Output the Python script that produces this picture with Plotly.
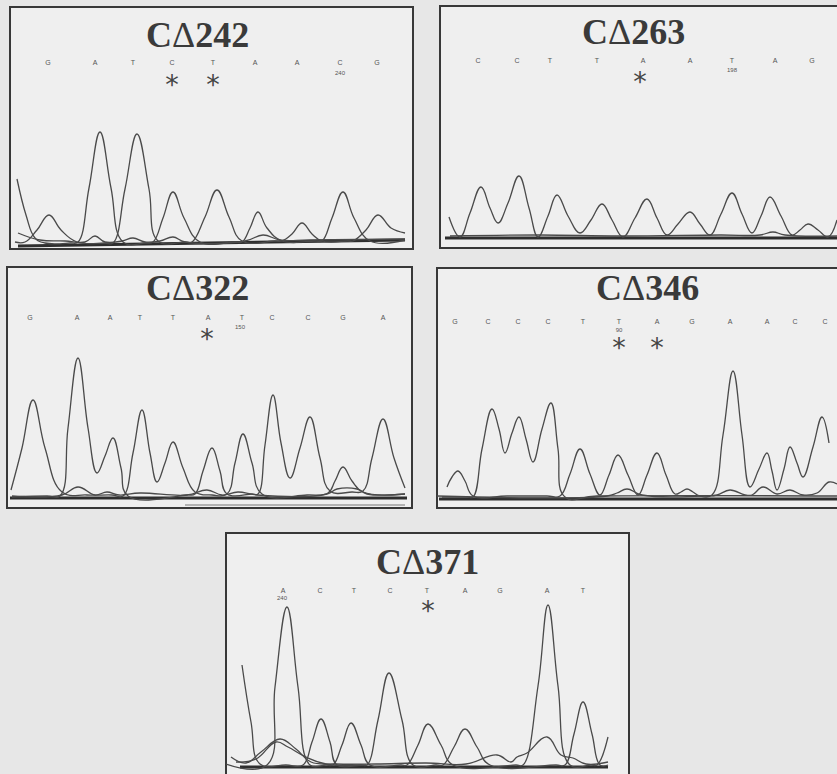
import plotly.graph_objects as go

W, H = 837, 774

# ---------------- DATA (scan position within panel, signal intensity) ----------------
# Panel 1: CΔ242
P1_BASES = ["G", "A", "T", "C", "T", "A", "A", "C", "G"]
P1_BASE_X = [38, 85, 123, 162, 203, 245, 287, 330, 367]
P1_NUM = ["240"]
P1_NUM_X = [330]
P1_STAR_X = [162, 203]
P1_A_X = [7, 16, 25, 35, 60, 68, 79, 90, 101, 113, 135, 143, 153, 163, 174, 190, 225, 232, 240, 248, 257, 272, 305, 312, 322, 333, 344, 360, 395]
P1_A_Y = [66, 30, 7, 2, 2, 3, 57, 113, 57, 3, 2, 3, 27, 53, 27, 3, 3, 3, 17, 33, 17, 4, 4, 4, 27, 53, 27, 4, 5]
P1_B_X = [5, 15, 27, 39, 51, 67, 95, 103, 115, 127, 139, 148, 175, 182, 195, 207, 219, 232, 265, 272, 282, 292, 302, 312, 338, 343, 356, 368, 381, 395]
P1_B_Y = [3, 3, 15, 30, 15, 3, 2, 2, 56, 111, 56, 4, 3, 3, 28, 55, 28, 4, 4, 4, 11, 22, 11, 4, 4, 4, 15, 30, 17, 12]
P1_C_X = [8, 30, 55, 75, 85, 95, 112, 123, 135, 150, 163, 175, 235, 253, 270, 300, 395]
P1_C_Y = [12, 5, 4, 3, 9, 3, 4, 7, 3, 4, 8, 3, 4, 10, 5, 5, 6]
P1_BL_X = [8, 395]
P1_BL_Y = [-1, 5]

# Panel 2: CΔ263
P2_BASES = ["C", "C", "T", "T", "A", "A", "T", "A", "G"]
P2_BASE_X = [38, 77, 110, 157, 203, 250, 292, 335, 372]
P2_NUM = ["198"]
P2_NUM_X = [292]
P2_STAR_X = [200]
P2_A_X = [9, 20, 30, 41, 50, 58, 68, 79, 89, 98, 108, 117, 128, 140, 151, 162, 172, 183, 195, 207, 217, 227, 238, 250, 260, 270, 281, 292, 302, 312, 321, 330, 341, 352, 360, 368, 378, 388, 397]
P2_A_Y = [21, 1, 25, 51, 30, 15, 35, 62, 30, 1, 22, 43, 22, 5, 18, 34, 18, 1, 20, 39, 20, 3, 14, 26, 14, 3, 24, 45, 24, 5, 22, 41, 22, 3, 8, 14, 8, 1, 18]
P2_C_X = [10, 100, 180, 280, 320, 333, 345, 397]
P2_C_Y = [2, 3, 2, 3, 3, 6, 3, 2]
P2_BL_X = [5, 397]
P2_BL_Y = [0, 0]

# Panel 3: CΔ322
P3_BASES = ["G", "A", "A", "T", "T", "A", "T", "C", "C", "G", "A"]
P3_BASE_X = [23, 70, 103, 133, 166, 201, 235, 265, 301, 336, 376]
P3_NUM = ["150"]
P3_NUM_X = [233]
P3_STAR_X = [200]
P3_A_X = [4, 15, 26, 38, 55, 80, 105, 116, 126, 135, 143, 150, 158, 166, 176, 188, 205, 220, 228, 236, 245, 255, 300, 321, 328, 336, 345, 356, 398]
P3_A_Y = [8, 50, 98, 50, 6, 3, 3, 2, 45, 88, 45, 16, 35, 56, 30, 6, 3, 4, 35, 64, 35, 4, 3, 5, 17, 31, 17, 6, 4]
P3_B_X = [5, 40, 53, 61, 71, 81, 90, 98, 106, 114, 121, 180, 188, 196, 205, 213, 220, 245, 251, 258, 266, 274, 283, 293, 303, 313, 323, 345, 356, 365, 376, 387, 398]
P3_B_Y = [1, 2, 2, 70, 140, 70, 25, 42, 60, 30, 2, 3, 4, 27, 50, 27, 4, 4, 4, 53, 103, 55, 20, 50, 81, 40, 7, 6, 7, 40, 79, 40, 10]
P3_C_X = [5, 55, 71, 88, 100, 112, 133, 180, 200, 215, 231, 250, 320, 330, 350, 360, 398]
P3_C_Y = [2, 3, 11, 3, 6, 3, 5, 3, 8, 3, 6, 3, 4, 9, 9, 4, 4]
P3_BL_X = [3, 400]
P3_BL_Y = [0, 0]
P3_BL2_X = [178, 398]
P3_BL2_Y = [-7, -7]

# Panel 4: CΔ346
P4_BASES = ["G", "C", "C", "C", "T", "T", "A", "G", "A", "A", "C", "C"]
P4_BASE_X = [18, 51, 81, 111, 146, 182, 220, 255, 293, 330, 358, 388]
P4_NUM = ["90"]
P4_NUM_X = [182]
P4_STAR_X = [182, 220]
P4_A_X = [10, 15, 21, 28, 36, 70, 110, 123, 133, 143, 153, 163, 172, 181, 191, 201, 210, 220, 229, 238, 244, 250, 256, 263, 275, 286, 296, 305, 313, 322, 330, 335, 340, 347, 353, 360, 366, 376, 385, 392]
P4_A_Y = [12, 22, 28, 18, 3, 3, 3, 3, 25, 50, 25, 4, 24, 44, 24, 4, 24, 46, 24, 5, 7, 10, 7, 3, 4, 64, 128, 64, 12, 30, 46, 28, 9, 30, 52, 36, 22, 52, 82, 56]
P4_B_X = [5, 30, 36, 45, 55, 62, 68, 75, 82, 89, 96, 105, 114, 121, 128, 160, 400]
P4_B_Y = [2, 2, 2, 50, 90, 70, 46, 66, 82, 60, 37, 70, 96, 50, 2, 3, 3]
P4_C_X = [0, 170, 180, 190, 205, 270, 280, 293, 308, 315, 326, 340, 353, 366, 380, 392, 400]
P4_C_Y = [3, 3, 6, 10, 4, 3, 4, 9, 4, 4, 12, 5, 9, 4, 6, 17, 15]
P4_BL_X = [2, 400]
P4_BL_Y = [0, 0]

# Panel 5: CΔ371
P5_BASES = ["A", "C", "T", "C", "T", "A", "G", "A", "T"]
P5_BASE_X = [57, 94, 128, 164, 201, 239, 274, 321, 357]
P5_NUM = ["240"]
P5_NUM_X = [56]
P5_STAR_X = [202]
P5_A_X = [16, 25, 34, 60, 77, 86, 95, 104, 111, 135, 141, 152, 163, 176, 187, 210, 217, 228, 239, 251, 264, 330, 339, 348, 357, 366, 374, 382]
P5_A_Y = [102, 45, 3, 2, 2, 25, 48, 25, 2, 2, 2, 47, 94, 47, 2, 2, 2, 20, 38, 20, 2, 2, 2, 33, 65, 33, 2, 2]
P5_B_X = [0, 41, 49, 61, 72, 84, 100, 107, 116, 125, 135, 144, 175, 181, 192, 202, 215, 227, 290, 297, 312, 322, 332, 344, 365, 371, 382]
P5_B_Y = [3, 2, 80, 160, 80, 2, 2, 2, 22, 44, 22, 2, 2, 2, 22, 43, 22, 2, 2, 2, 81, 162, 81, 2, 2, 2, 30]
P5_C_X = [5, 20, 35, 54, 70, 85, 110, 150, 200, 240, 271, 285, 291, 301, 321, 335, 347, 360, 382]
P5_C_Y = [10, 4, 15, 28, 18, 5, 3, 3, 4, 3, 12, 5, 10, 14, 30, 12, 9, 3, 5]
P5_D_X = [10, 30, 50, 62, 80, 100, 140]
P5_D_Y = [5, 8, 25, 20, 10, 3, 2]
P5_BL_X = [14, 382]
P5_BL_Y = [0, 0]

# ---------------- LAYOUT (pixel geometry of the scanned panels) ----------------
panels = [
    dict(title="CΔ242", box=(10, 7, 413, 249), base=245, rows=(63, 73, 82), title_xy=(197, 35),
         bases=P1_BASES, base_x=P1_BASE_X, num=P1_NUM, num_x=P1_NUM_X, star_x=P1_STAR_X,
         traces=[(P1_A_X, P1_A_Y), (P1_B_X, P1_B_Y), (P1_C_X, P1_C_Y)], bl=[(P1_BL_X, P1_BL_Y, 3)]),
    dict(title="CΔ263", box=(440, 6, 845, 248), base=238, rows=(61, 70, 79), title_xy=(633, 32),
         bases=P2_BASES, base_x=P2_BASE_X, num=P2_NUM, num_x=P2_NUM_X, star_x=P2_STAR_X,
         traces=[(P2_A_X, P2_A_Y), (P2_C_X, P2_C_Y)], bl=[(P2_BL_X, P2_BL_Y, 3)]),
    dict(title="CΔ322", box=(7, 267, 412, 508), base=498, rows=(318, 327, 336), title_xy=(197, 288),
         bases=P3_BASES, base_x=P3_BASE_X, num=P3_NUM, num_x=P3_NUM_X, star_x=P3_STAR_X,
         traces=[(P3_A_X, P3_A_Y), (P3_B_X, P3_B_Y), (P3_C_X, P3_C_Y)],
         bl=[(P3_BL_X, P3_BL_Y, 3), (P3_BL2_X, P3_BL2_Y, 1)]),
    dict(title="CΔ346", box=(437, 268, 845, 508), base=499, rows=(322, 330, 345), title_xy=(647, 288),
         bases=P4_BASES, base_x=P4_BASE_X, num=P4_NUM, num_x=P4_NUM_X, star_x=P4_STAR_X,
         traces=[(P4_A_X, P4_A_Y), (P4_B_X, P4_B_Y), (P4_C_X, P4_C_Y)], bl=[(P4_BL_X, P4_BL_Y, 3)]),
    dict(title="CΔ371", box=(226, 533, 629, 790), base=767, rows=(591, 598, 608), title_xy=(427, 562),
         bases=P5_BASES, base_x=P5_BASE_X, num=P5_NUM, num_x=P5_NUM_X, star_x=P5_STAR_X,
         traces=[(P5_A_X, P5_A_Y), (P5_B_X, P5_B_Y), (P5_C_X, P5_C_Y), (P5_D_X, P5_D_Y)],
         bl=[(P5_BL_X, P5_BL_Y, 3)]),
]

LINE = "#4a4a4a"
TEXT = "#3a3a3a"
STAR_SHIFT = 5  # asterisk glyph sits high in its em box

fig = go.Figure()
shapes = []
annotations = []
layout_axes = {}

for i, p in enumerate(panels):
    n = i + 1
    sfx = "" if n == 1 else str(n)
    xref, yref = "x" + sfx, "y" + sfx
    left, top, right, bottom = p["box"]
    r = min(right, W)
    b = min(bottom, H)
    base = p["base"]
    layout_axes["xaxis" + sfx] = dict(domain=[left / W, r / W], range=[0, r - left], visible=False,
                                      fixedrange=True, anchor=yref)
    layout_axes["yaxis" + sfx] = dict(domain=[1 - b / H, 1 - top / H], range=[base - b, base - top],
                                      visible=False, fixedrange=True, anchor=xref)
    shapes.append(dict(type="rect", xref="paper", yref="paper", x0=left / W, x1=right / W,
                       y0=1 - bottom / H, y1=1 - top / H, line=dict(color="#383838", width=2),
                       fillcolor="#efefef", layer="below"))
    for bx, by, bw in p["bl"]:
        fig.add_trace(go.Scatter(x=bx, y=by, mode="lines", xaxis=xref, yaxis=yref,
                                 line=dict(color="#2e2e2e" if bw > 1 else "#777777", width=bw),
                                 hoverinfo="skip", showlegend=False))
    for tx, ty in p["traces"]:
        fig.add_trace(go.Scatter(x=tx, y=ty, mode="lines", xaxis=xref, yaxis=yref,
                                 line=dict(color=LINE, width=1.3, shape="spline", smoothing=1.2),
                                 hoverinfo="skip", showlegend=False))
    letter_row, num_row, star_row = p["rows"]
    fig.add_trace(go.Scatter(x=p["base_x"], y=[base - letter_row] * len(p["base_x"]), mode="text",
                             text=p["bases"], xaxis=xref, yaxis=yref, cliponaxis=False,
                             textfont=dict(family="Liberation Sans", size=7, color="#555555"),
                             hoverinfo="skip", showlegend=False))
    fig.add_trace(go.Scatter(x=p["num_x"], y=[base - num_row] * len(p["num_x"]), mode="text",
                             text=p["num"], xaxis=xref, yaxis=yref, cliponaxis=False,
                             textfont=dict(family="Liberation Sans", size=6, color="#555555"),
                             hoverinfo="skip", showlegend=False))
    fig.add_trace(go.Scatter(x=p["star_x"], y=[base - star_row - STAR_SHIFT] * len(p["star_x"]), mode="text",
                             text=["*"] * len(p["star_x"]), xaxis=xref, yaxis=yref, cliponaxis=False,
                             textfont=dict(family="DejaVu Sans", size=27, color="#444444"),
                             hoverinfo="skip", showlegend=False))
    tx_, ty_ = p["title_xy"]
    c, rest = p["title"][0], p["title"][2:]
    annotations.append(dict(xref="paper", yref="paper", x=tx_ / W, y=1 - ty_ / H,
                            text=f"<b>{c}</b>Δ<b>{rest}</b>", showarrow=False,
                            xanchor="center", yanchor="middle",
                            font=dict(family="Liberation Serif", size=36, color=TEXT)))

fig.update_layout(width=W, height=H, margin=dict(l=0, r=0, t=0, b=0),
                  paper_bgcolor="#e7e7e7", plot_bgcolor="rgba(0,0,0,0)",
                  shapes=shapes, annotations=annotations, showlegend=False, **layout_axes)

fig.write_html("out.html")
